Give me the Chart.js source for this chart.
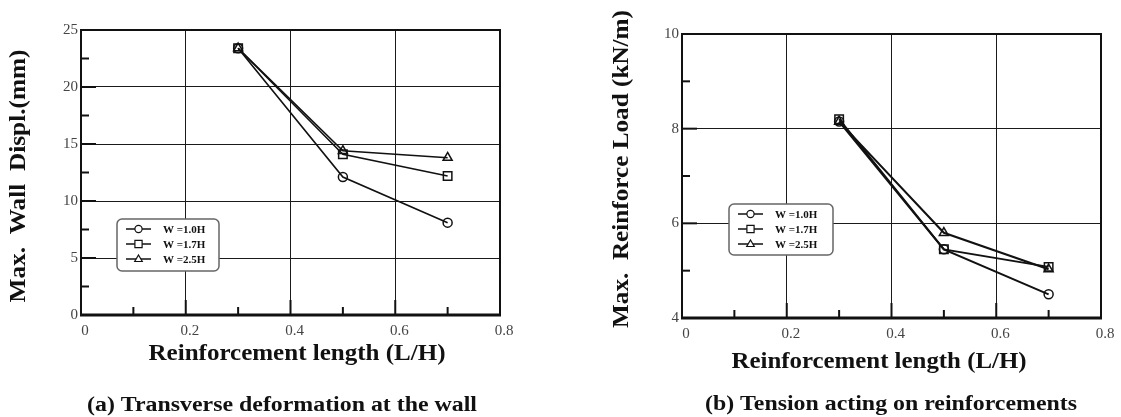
<!DOCTYPE html>
<html>
<head>
<meta charset="utf-8">
<script src="https://cdn.jsdelivr.net/npm/chart.js@4.4.1/dist/chart.umd.min.js"></script>
<style>
  html, body { margin: 0; padding: 0; background: #fff; }
  #wrap { position: relative; width: 1121px; height: 417px; overflow: hidden; background: #fff; }
  canvas { position: absolute; top: 0; }
</style>
</head>
<body>
<div id="wrap">
  <canvas id="dispChart" width="560" height="417" style="left:0;width:560px;height:417px"></canvas>
  <canvas id="loadChart" width="561" height="417" style="left:560px;width:561px;height:417px"></canvas>
</div>
<script>
// Reinforcement length ratio L/H
const lengthRatio = [0.3, 0.5, 0.7];
const seriesLabels = ['W =1.0H', 'W =1.7H', 'W =2.5H'];

// (a) Max. wall displacement (mm)
const dispW10 = [23.4, 12.1, 8.1];
const dispW17 = [23.4, 14.1, 12.2];
const dispW25 = [23.4, 14.4, 13.8];

// (b) Max. reinforcement load (kN/m)
const loadW10 = [8.15, 5.45, 4.5];
const loadW17 = [8.2, 5.45, 5.08];
const loadW25 = [8.15, 5.8, 5.03];

// Axis tick labels
const xTickLabels = ['0', '0.2', '0.4', '0.6', '0.8'];
const dispTickLabels = ['0', '5', '10', '15', '20', '25'];
const loadTickLabels = ['4', '6', '8', '10'];

const INK = '#111';
const SERIF = '"Liberation Serif", "Times New Roman", serif';
const markerStyles = ['circle', 'rect', 'triangle'];
const markerRadius = [4.5, 6, 5.2];

function toPoints(ys) {
  return lengthRatio.map((x, i) => ({ x: x, y: ys[i] }));
}

function makeDatasets(seriesList, lineWidth) {
  return seriesList.map((ys, i) => ({
    label: seriesLabels[i],
    data: toPoints(ys),
    borderColor: INK,
    borderWidth: lineWidth,
    backgroundColor: 'rgba(255,255,255,0)',
    pointStyle: markerStyles[i],
    pointRadius: markerRadius[i],
    pointBorderWidth: 1.5,
    pointBorderColor: INK,
    pointBackgroundColor: 'rgba(255,255,255,0)',
    tension: 0
  }));
}

// Draw text centred on a point, stretched horizontally to a given width
function drawFittedText(ctx, text, font, along, baseline, width, vertical) {
  ctx.save();
  ctx.font = font;
  const w = ctx.measureText(text).width;
  const sx = width / w;
  if (vertical) {
    ctx.translate(baseline, along);
    ctx.rotate(-Math.PI / 2);
  } else {
    ctx.translate(along, baseline);
  }
  ctx.scale(sx, 1);
  ctx.fillStyle = INK;
  ctx.textAlign = 'center';
  ctx.textBaseline = 'alphabetic';
  ctx.fillText(text, 0, 0);
  ctx.restore();
}

function drawMarker(ctx, style, x, y, r) {
  ctx.beginPath();
  if (style === 'circle') {
    ctx.arc(x, y, r, 0, Math.PI * 2);
  } else if (style === 'rect') {
    ctx.rect(x - r, y - r, 2 * r, 2 * r);
  } else {
    ctx.moveTo(x, y - r * 1.1);
    ctx.lineTo(x + r * 1.05, y + r * 0.7);
    ctx.lineTo(x - r * 1.05, y + r * 0.7);
    ctx.closePath();
  }
  ctx.fillStyle = '#fff';
  ctx.fill();
  ctx.stroke();
}

// Frame, inward tick marks, boxed legend, axis titles and caption
const paperDecor = {
  id: 'paperDecor',
  afterDatasetsDraw(chart, args, opts) {
    const { ctx, chartArea: a, scales } = chart;
    const xs = scales.x, ys = scales.y;

    // inward ticks on left and bottom axes
    ctx.save();
    ctx.strokeStyle = INK;
    ctx.lineWidth = 2;
    const tick = (x1, y1, x2, y2) => { ctx.beginPath(); ctx.moveTo(x1, y1); ctx.lineTo(x2, y2); ctx.stroke(); };
    opts.xMajor.forEach(v => { const p = xs.getPixelForValue(v); tick(p, a.bottom, p, a.bottom - 15); });
    opts.xMinor.forEach(v => { const p = xs.getPixelForValue(v); tick(p, a.bottom, p, a.bottom - 8); });
    opts.yMajor.forEach(v => { const p = ys.getPixelForValue(v); tick(a.left, p, a.left + 15, p); });
    opts.yMinor.forEach(v => { const p = ys.getPixelForValue(v); tick(a.left, p, a.left + 8, p); });

    // plot frame
    ctx.lineWidth = 2;
    ctx.strokeRect(a.left, a.top, a.right - a.left, a.bottom - a.top);
    ctx.lineWidth = 3;
    tick(a.left - 1, a.bottom, a.right + 1, a.bottom);
    ctx.restore();

    // legend box
    const lg = opts.legend;
    const bx = a.left + lg.left, by = a.top + lg.top;
    ctx.save();
    ctx.beginPath();
    ctx.roundRect(bx, by, lg.width, lg.height, 5);
    ctx.fillStyle = '#fff';
    ctx.fill();
    ctx.strokeStyle = '#666';
    ctx.lineWidth = 1.5;
    ctx.stroke();
    chart.data.datasets.forEach((ds, i) => {
      const ry = by + lg.rowTop + i * lg.rowGap;
      ctx.strokeStyle = INK;
      ctx.lineWidth = 1.5;
      ctx.beginPath();
      ctx.moveTo(bx + 9, ry);
      ctx.lineTo(bx + 34, ry);
      ctx.stroke();
      ctx.lineWidth = 1.2;
      drawMarker(ctx, ds.pointStyle, bx + 21.5, ry, 3.6);
      ctx.fillStyle = INK;
      ctx.font = 'bold 11px ' + SERIF;
      ctx.textAlign = 'left';
      ctx.textBaseline = 'middle';
      ctx.fillText(ds.label, bx + 46, ry + 1);
    });
    ctx.restore();

    // titles
    opts.texts.forEach(t => drawFittedText(ctx, t.text, t.font, t.along, t.baseline, t.width, t.vertical));
  }
};

function buildChart(canvasId, datasets, cfg) {
  return new Chart(document.getElementById(canvasId), {
    type: 'line',
    data: { datasets: datasets },
    plugins: [paperDecor],
    options: {
      responsive: false,
      animation: false,
      devicePixelRatio: 1,
      layout: { padding: cfg.padding },
      plugins: {
        legend: { display: false },
        tooltip: { enabled: false },
        paperDecor: cfg.decor
      },
      scales: {
        x: {
          type: 'linear',
          min: 0, max: 0.8,
          afterFit: s => { s.height = cfg.xHeight; },
          afterBuildTicks: s => { s.ticks = xTickLabels.map(t => ({ value: parseFloat(t) })); },
          ticks: {
            callback: (v, i) => xTickLabels[i],
            font: { family: SERIF, size: 15 },
            color: '#444',
            padding: 7,
            labelOffset: 4,
            maxRotation: 0
          },
          grid: { color: '#1a1a1a', lineWidth: 1, drawTicks: false },
          border: { display: true, color: INK, width: 2 }
        },
        y: {
          type: 'linear',
          min: cfg.yMin, max: cfg.yMax,
          afterFit: s => { s.width = cfg.yWidth; },
          afterBuildTicks: s => { s.ticks = cfg.yLabels.map(t => ({ value: parseFloat(t) })); },
          ticks: {
            callback: (v, i) => cfg.yLabels[i],
            font: { family: SERIF, size: 15 },
            color: '#444',
            padding: 3
          },
          grid: { color: '#1a1a1a', lineWidth: 1, drawTicks: false },
          border: { display: true, color: INK, width: 2 }
        }
      }
    }
  });
}

const titleFont = 'bold 24px ' + SERIF;
const captionFont = 'bold 20px ' + SERIF;

buildChart('dispChart', makeDatasets([dispW10, dispW17, dispW25], 1.6), {
  padding: { left: 0, top: 30, right: 60, bottom: 0 },
  xHeight: 102, yWidth: 81,
  yMin: 0, yMax: 25, yLabels: dispTickLabels,
  decor: {
    xMajor: [0.2, 0.4, 0.6], xMinor: [0.1, 0.3, 0.5, 0.7],
    yMajor: [5, 10, 15, 20, 25], yMinor: [2.5, 7.5, 12.5, 17.5, 22.5],
    legend: { left: 36, top: 189, width: 102, height: 52, rowTop: 10, rowGap: 15 },
    texts: [
      { text: 'Reinforcement length (L/H)', font: titleFont, along: 297, baseline: 360, width: 297 },
      { text: 'Max.  Wall  Displ.(mm)', font: titleFont, along: 176, baseline: 25, width: 253, vertical: true },
      { text: '(a) Transverse deformation at the wall', font: captionFont, along: 282, baseline: 411, width: 390 }
    ]
  }
});

buildChart('loadChart', makeDatasets([loadW10, loadW17, loadW25], 2), {
  padding: { left: 0, top: 34, right: 20, bottom: 0 },
  xHeight: 99, yWidth: 122,
  yMin: 4, yMax: 10, yLabels: loadTickLabels,
  decor: {
    xMajor: [0.2, 0.4, 0.6], xMinor: [0.1, 0.3, 0.5, 0.7],
    yMajor: [6, 8, 10], yMinor: [5, 7, 9],
    legend: { left: 47, top: 170, width: 104, height: 51, rowTop: 10, rowGap: 15 },
    texts: [
      { text: 'Reinforcement length (L/H)', font: titleFont, along: 319, baseline: 368, width: 295 },
      { text: 'Max.  Reinforce Load (kN/m)', font: titleFont, along: 169, baseline: 68, width: 318, vertical: true },
      { text: '(b) Tension acting on reinforcements', font: captionFont, along: 331, baseline: 410, width: 372 }
    ]
  }
});
</script>
</body>
</html>
